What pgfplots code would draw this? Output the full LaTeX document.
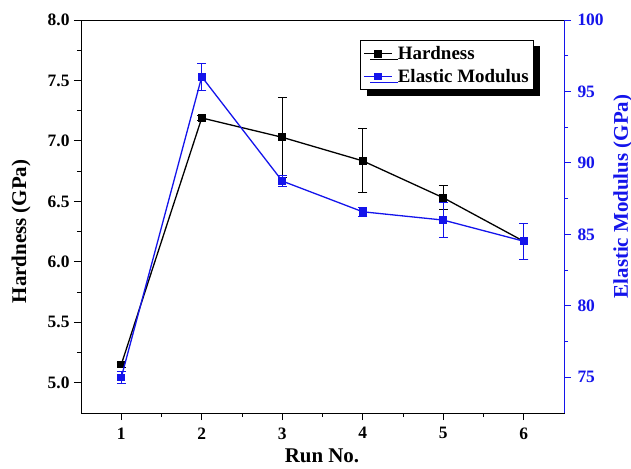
\documentclass[border=0pt]{standalone}
\usepackage{fontspec}
\setmainfont{Liberation Serif}
\usepackage{pgfplots}
\pgfplotsset{compat=1.18}
\usetikzlibrary{shadows}
\definecolor{emblue}{RGB}{20,20,235}
\begin{document}
\begin{tikzpicture}
\pgfplotsset{
  every axis/.append style={
    scale only axis, width=483bp, height=393bp,
    xmin=0.5, xmax=6.5,
    tick align=outside, major tick length=7bp, minor tick length=4bp,
    axis line style={line width=0.9bp},
    every tick/.style={line width=0.9bp},
    /pgf/number format/assume math mode=true,
    tick label style={font=\fontsize{17.5}{19}\selectfont\bfseries},
    label style={font=\fontsize{21}{23}\selectfont\bfseries},
  },
}
\begin{axis}[
  xtick pos=bottom, ytick pos=left,
  ymin=4.75, ymax=8,
  ytick={5,5.5,...,8}, minor y tick num=1,
  xtick={1,...,6}, minor x tick num=1,
  yticklabel style={xshift=-1bp, /pgf/number format/.cd, fixed, fixed zerofill, precision=1},
  xticklabel style={yshift=-4bp},
  ylabel={Hardness (GPa)},
  ylabel style={at={(axis description cs:-0.124,0.462)}, anchor=center},
  xlabel={Run No.},
  xlabel style={at={(axis description cs:0.499,-0.109)}, anchor=center},
]
\addplot[black, line width=1.3bp, mark=square*, mark size=3.2bp,
  error bars/.cd, y dir=both, y explicit,
  error bar style={line width=1bp}, error mark options={rotate=90, mark size=4.5bp, line width=1bp}]
  table[x=x, y=y, y error=e] {
x y e
1 5.15 0.02
2 7.19 0.02
3 7.03 0.33
4 6.835 0.265
5 6.53 0.10
6 6.17 0.15
};
\end{axis}
\begin{axis}[
  axis y line*=right, axis x line=none,
  ymin=72.5, ymax=100,
  ytick={75,80,...,100}, minor y tick num=1,
  y axis line style={emblue},
  ytick style={emblue},
  yticklabel style={text=emblue, xshift=3bp},
  ylabel={Elastic Modulus (GPa)},
  ylabel style={at={(axis description cs:1.122,0.551)}, anchor=center, rotate=0, text=emblue},
  legend style={at={(axis description cs:0.578,0.949)}, anchor=north west,
    font=\fontsize{19}{22}\selectfont\bfseries, draw=black, line width=0.8bp,
    fill=white, inner xsep=3bp, inner ysep=4bp, row sep=4bp,
    /tikz/every odd column/.append style={column sep=3bp},
    drop shadow={shadow xshift=6bp, shadow yshift=-6bp, fill=black, opacity=1}},
  legend cell align=left,
  legend image code/.code={\draw[mark repeat=2, mark phase=2, #1] plot coordinates {(0bp,0bp) (14bp,0bp) (28bp,0bp)};},
]
\addlegendimage{black, line width=1.3bp, mark=square*, mark size=3.2bp}
\addlegendentry{Hardness}
\addplot[emblue, line width=1.3bp, mark=square*, mark size=3.2bp,
  error bars/.cd, y dir=both, y explicit,
  error bar style={line width=1bp}, error mark options={rotate=90, mark size=4.5bp, line width=1bp}]
  table[x=x, y=y, y error=e] {
x y e
1 74.98 0.45
2 96.03 0.95
3 88.73 0.40
4 86.58 0.30
5 86.0 1.2
6 84.52 1.25
};
\addlegendentry{Elastic Modulus}
\end{axis}
\pgfresetboundingbox
\path (-81bp,-56bp) rectangle (550bp,413bp);
\end{tikzpicture}
\end{document}
